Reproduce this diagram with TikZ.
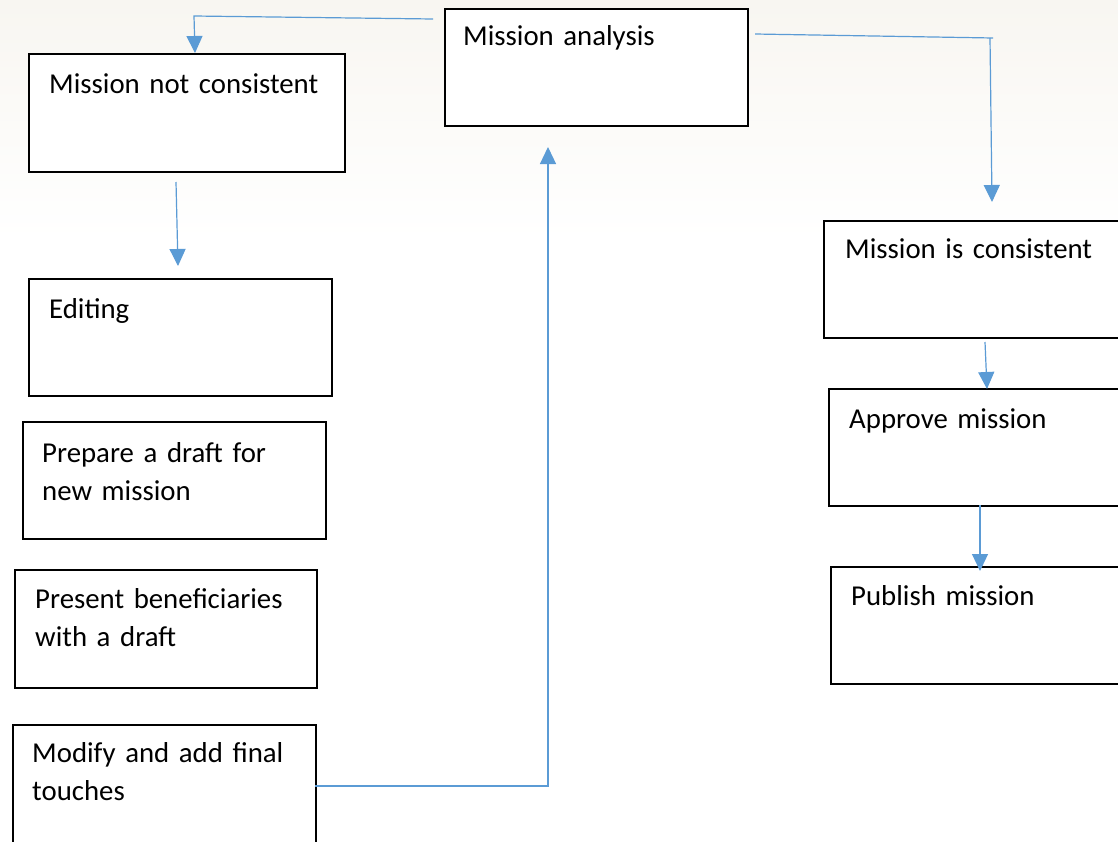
\documentclass[tikz,border=0pt]{standalone}
\usepackage{fontspec}
\setmainfont{Carlito}[WordSpace=0.9]
\usetikzlibrary{arrows.meta}
\definecolor{conncol}{RGB}{91,155,213}
\definecolor{bgtop}{RGB}{248,246,241}
\tikzset{
  boxnode/.style={draw=black, line width=1.8pt, fill=white, anchor=north west, inner sep=0pt},
  txt/.style={anchor=base west, inner sep=0pt, text width=300pt, align=left,
              font=\fontsize{28.8}{38}\selectfont},
  conn/.style={draw=conncol, line width=1.2pt},
  arr/.style={conn, -{Triangle[length=17pt,width=16pt]}},
}
\begin{document}
\begin{tikzpicture}[x=1pt,y=-1pt]
\useasboundingbox (0,0) rectangle (1118,841);
\shade[top color=bgtop, bottom color=white] (0,0) rectangle (1118,240);
\fill[white] (0,240) rectangle (1118,841);

% boxes
\node[boxnode, minimum width=303pt, minimum height=117pt] (ma) at (444,8) {};
\node[boxnode, minimum width=316pt, minimum height=118pt] (mnc) at (28,53) {};
\node[boxnode, minimum width=303pt, minimum height=117pt] (ed) at (28,278) {};
\node[boxnode, minimum width=303pt, minimum height=117pt] (pd) at (22,421) {};
\node[boxnode, minimum width=302pt, minimum height=118pt] (pb) at (14,569) {};
\node[boxnode, minimum width=303pt, minimum height=130pt] (mf) at (12,724) {};
\node[boxnode, minimum width=310pt, minimum height=117pt] (mic) at (823,220) {};
\node[boxnode, minimum width=310pt, minimum height=117pt] (am) at (828,388) {};
\node[boxnode, minimum width=310pt, minimum height=117pt] (pm) at (830,566) {};

% texts
\node[txt] (tma) at (463,45) {Mission analysis};
\node[txt] (tmnc) at (49,93) {Mission not consistent};
\node[txt] (ted) at (49,318) {Editing};
\node[txt] (tpd) at (42,462) {Prepare a draft for\\new mission};
\node[txt] (tpb) at (35,608) {Present beneficiaries\\with a draft};
\node[txt] (tmf) at (32,762) {Modify and add final\\touches};
\node[txt] (tmic) at (845,258) {Mission is consistent};
\node[txt] (tam) at (849,428) {Approve mission};
\node[txt] (tpm) at (851,605) {Publish mission};

% connector points
\coordinate (c1a) at (433,19);
\coordinate (c1b) at (194,16);
\coordinate (c1c) at (195,53);
\coordinate (c2a) at (755,34);
\coordinate (c2b) at (993,38);
\coordinate (c2c) at (990,38);
\coordinate (c2d) at (992,202);
\coordinate (c3a) at (176,182);
\coordinate (c3b) at (178,266);
\coordinate (c4a) at (985,342);
\coordinate (c4b) at (987,389);
\coordinate (c5a) at (980,505);
\coordinate (c5b) at (980,571);
\coordinate (c6a) at (315,786);
\coordinate (c6b) at (548,786);
\coordinate (c6c) at (548,147);

\draw[arr] (c1a) -- (c1b) -- (c1c);
\draw[conn] (c2a) -- (c2b);
\draw[arr] (c2c) -- (c2d);
\draw[arr] (c3a) -- (c3b);
\draw[arr] (c4a) -- (c4b);
\draw[arr] (c5a) -- (c5b);
\draw[arr] (c6a) -- (c6b) -- (c6c);
\end{tikzpicture}
\end{document}
